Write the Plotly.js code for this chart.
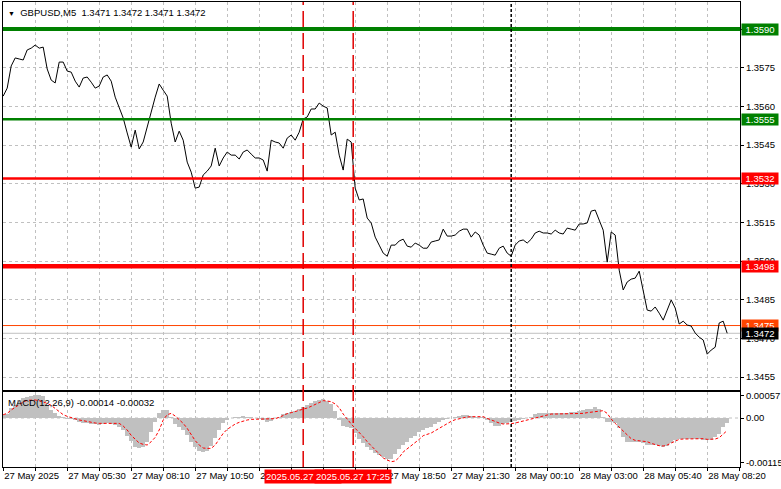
<!DOCTYPE html>
<html>
<head>
<meta charset="utf-8">
<script src="https://cdn.plot.ly/plotly-3.0.1.min.js"></script>
<style>html,body{margin:0;padding:0;background:#fff;}#chart{width:781px;height:489px;}</style>
</head>
<body>
<div id="chart"></div>
<script>
// ---- data (GBPUSD M5, sampled every 10 minutes from 27 May 2025 02:50) ----
const startTime = '2025-05-27 02:50';
const stepMinutes = 10;

const closes = [
1.35640,1.35671,1.35757,1.35788,1.35784,1.35780,1.35819,1.35826,1.35838,1.35826,
1.35830,1.35745,1.35702,1.35691,1.35772,1.35772,1.35737,1.35733,1.35698,1.35675,
1.35710,1.35714,1.35694,1.35671,1.35679,1.35714,1.35722,1.35698,1.35636,1.35597,
1.35555,1.35497,1.35442,1.35508,1.35435,1.35462,1.35516,1.35578,1.35636,1.35687,
1.35663,1.35640,1.35535,1.35462,1.35504,1.35469,1.35384,1.35345,1.35283,1.35287,
1.35334,1.35349,1.35369,1.35438,1.35369,1.35400,1.35423,1.35411,1.35411,1.35396,
1.35423,1.35431,1.35415,1.35400,1.35400,1.35392,1.35349,1.35469,1.35462,1.35458,
1.35438,1.35477,1.35489,1.35469,1.35500,1.35551,1.35559,1.35590,1.35590,1.35613,
1.35601,1.35594,1.35489,1.35500,1.35411,1.35353,1.35473,1.35462,1.35283,1.35237,
1.35241,1.35167,1.35148,1.35093,1.35062,1.35031,1.35019,1.35062,1.35062,1.35078,
1.35085,1.35058,1.35054,1.35070,1.35062,1.35050,1.35050,1.35074,1.35078,1.35082,
1.35124,1.35097,1.35097,1.35101,1.35116,1.35124,1.35124,1.35093,1.35113,1.35101,
1.35062,1.35031,1.35027,1.35023,1.35050,1.35058,1.35031,1.35019,1.35062,1.35078,
1.35082,1.35070,1.35085,1.35109,1.35116,1.35109,1.35109,1.35105,1.35120,1.35109,
1.35105,1.35128,1.35124,1.35120,1.35144,1.35144,1.35148,1.35194,1.35198,1.35155,
1.35120,1.34996,1.35113,1.35101,1.34965,1.34888,1.34919,1.34930,1.34934,1.34961,
1.34892,1.34810,1.34806,1.34822,1.34798,1.34771,1.34810,1.34849,1.34818,1.34756,
1.34767,1.34752,1.34748,1.34721,1.34705,1.34694,1.34639,1.34655,1.34666,1.34760,
1.34767,1.34720
];

const macdMain = [
0.000077,0.000102,0.000247,0.000333,0.000461,0.000503,0.000546,0.000563,0.000589,0.000589,
0.000572,0.000333,0.000205,0.000119,0.000051,0.000017,-0.000017,-0.000034,-0.000051,-0.000094,
-0.000119,-0.000137,-0.000154,-0.000162,-0.000171,-0.000154,-0.000137,-0.000154,-0.000179,-0.000222,
-0.000307,-0.000461,-0.000589,-0.000734,-0.000777,-0.000734,-0.000606,-0.00035,-0.000094,0.000137,
0.000205,0.000205,0.000034,-0.000154,-0.000222,-0.000307,-0.000435,-0.000606,-0.000734,-0.000836,
-0.000862,-0.000836,-0.000717,-0.000521,-0.000307,-0.000119,-0.000051,-0.000009,0.000034,0.000034,
0.000051,0.000034,0.000017,-0.000009,-0.000034,-0.000051,-0.000094,-0.000068,-0.000009,0.000034,
0.000094,0.000119,0.000162,0.000188,0.000222,0.00029,0.000333,0.000393,0.000427,0.000461,
0.000478,0.000444,0.000358,0.000188,-0.000051,-0.000205,-0.000222,-0.000265,-0.000393,-0.000546,
-0.000649,-0.000734,-0.000819,-0.000887,-0.000947,-0.001007,-0.00105,-0.001058,-0.000922,-0.000802,
-0.0007,-0.000606,-0.000503,-0.000461,-0.000367,-0.000307,-0.000265,-0.000222,-0.000154,-0.000102,
-0.00006,-0.000026,0.000009,0.000026,0.000051,0.000068,0.000068,0.000051,0.000034,0.000034,
0.000017,-0.000051,-0.000137,-0.000205,-0.000205,-0.000162,-0.000137,-0.000111,-0.000077,-0.000051,
-0.000017,0.000009,0.000034,0.000094,0.000119,0.000137,0.000137,0.000137,0.000137,0.000128,
0.000137,0.000137,0.000145,0.000154,0.000179,0.000205,0.000222,0.000239,0.000273,0.000222,
0.000017,-0.000094,-0.000111,-0.000137,-0.000265,-0.000495,-0.000606,-0.000614,-0.000614,-0.000614,
-0.000631,-0.000691,-0.0007,-0.0007,-0.000717,-0.000734,-0.000717,-0.000631,-0.000563,-0.000538,
-0.000529,-0.000529,-0.000529,-0.000546,-0.000546,-0.000563,-0.000572,-0.000563,-0.000495,-0.00041,
-0.000239,-0.00014
];

const macdSignal = [
0.000085,0.000119,0.000205,0.000273,0.000358,0.00041,0.000452,0.000461,0.000461,0.000444,
0.000418,0.000375,0.000324,0.000239,0.000162,0.000085,0.000043,0.000009,-0.000026,-0.000051,
-0.000068,-0.000094,-0.000111,-0.000128,-0.000137,-0.000137,-0.000137,-0.000128,-0.000119,-0.000137,
-0.000205,-0.000307,-0.000444,-0.000546,-0.00064,-0.000674,-0.000691,-0.000606,-0.000495,-0.000307,
-0.000051,0.000085,0.000119,0.000051,-0.000034,-0.000137,-0.000265,-0.000435,-0.00058,-0.000691,
-0.000768,-0.000777,-0.000777,-0.000691,-0.000546,-0.000393,-0.00029,-0.000222,-0.000154,-0.000111,
-0.000077,-0.000051,-0.000034,-0.000034,-0.000034,-0.000034,-0.000034,-0.000034,-0.000017,0.000017,
0.000068,0.000111,0.000137,0.000162,0.000188,0.000222,0.000256,0.000299,0.00035,0.000401,
0.000444,0.000435,0.000418,0.000358,0.000265,0.000102,-0.000034,-0.000154,-0.000265,-0.000367,
-0.000478,-0.000606,-0.000708,-0.000819,-0.000922,-0.001024,-0.001075,-0.001118,-0.001101,-0.001007,
-0.00087,-0.000794,-0.000717,-0.000631,-0.000546,-0.000452,-0.000418,-0.000384,-0.000324,-0.000265,
-0.000205,-0.000137,-0.000085,-0.000043,-0.000017,0.000009,0.000026,0.000034,0.000034,0.000034,
0.000034,-0.000009,-0.000051,-0.000094,-0.000128,-0.000154,-0.000154,-0.000145,-0.000128,-0.000102,
-0.000068,-0.000051,-0.000026,0,0.000034,0.000068,0.000094,0.000102,0.000102,0.000102,
0.000102,0.000102,0.000102,0.000102,0.000111,0.000119,0.000137,0.000154,0.000171,0.000188,
0.000188,0.000119,-0.000026,-0.000137,-0.000239,-0.00035,-0.000435,-0.000529,-0.000572,-0.00058,
-0.000589,-0.000606,-0.000649,-0.000683,-0.000708,-0.000717,-0.000691,-0.00064,-0.000589,-0.000546,
-0.000538,-0.000538,-0.000538,-0.000529,-0.000521,-0.000529,-0.000546,-0.000546,-0.000538,-0.000503,
-0.000418,-0.00032
];

const tickLabels = ['27 May 2025','','27 May 05:30','','27 May 08:10','','27 May 10:50','',
  '27 May 13:30','','27 May 16:10','','27 May 18:50','','27 May 21:30','',
  '28 May 00:10','','28 May 03:00','','28 May 05:40','','28 May 08:20',''];
const tickStepMinutes = 80;

const levelPrices = [1.3590, 1.3555, 1.3532, 1.3498];
const levelLabels = ['1.3590', '1.3555', '1.3532', '1.3498'];
const markerPrice = 1.3475, bidPrice = 1.3472;
const sessionLines = ['2025-05-27 15:20', '2025-05-27 17:25'];
const sessionLabels = ['2025.05.27 15:20', '2025.05.27 17:25'];
const daySeparator = '2025-05-28 00:00';
const titleText = 'GBPUSD,M5  1.3471 1.3472 1.3471 1.3472';
const macdText = 'MACD(12,26,9) -0.00014 -0.00032';

// ---- helpers ----
function parseT(s){ const [d,t]=s.split(' '); const [Y,M,D]=d.split('-').map(Number); const [h,m]=t.split(':').map(Number); return Date.UTC(Y,M-1,D,h,m); }
function fmt(ms){ return new Date(ms).toISOString().slice(0,19).replace('T',' '); }
const t0 = parseT(startTime);
const times = closes.map((_, i) => fmt(t0 + i*stepMinutes*60000));
const tickVals = tickLabels.map((_, n) => fmt(t0 + n*tickStepMinutes*60000));

// ---- styles ----
const FONT = 'Liberation Sans, Arial, sans-serif';
const GRID = '#c0c0c0';
const levelStyle = [
  {color:'#008000', width:4, bg:'#008000'},
  {color:'#008000', width:2.5, bg:'#008000'},
  {color:'#ff0000', width:2.5, bg:'#ff0000'},
  {color:'#ff0000', width:4.5, bg:'#ff0000'}
];

const traces = [
  {x: times, y: closes, type:'scatter', mode:'lines', line:{color:'#000', width:1}, xaxis:'x', yaxis:'y', hoverinfo:'skip'},
  {x: times, y: macdMain, type:'bar', marker:{color:'#c0c0c0', line:{width:0}}, width: stepMinutes*60000, xaxis:'x2', yaxis:'y2', hoverinfo:'skip'},
  {x: times, y: macdSignal, type:'scatter', mode:'lines', line:{color:'#ff0000', width:1, dash:'3px,2px'}, xaxis:'x2', yaxis:'y2', hoverinfo:'skip'}
];

const shapes = [];
levelPrices.forEach((p, i) => shapes.push({type:'line', xref:'paper', x0:0, x1:1, yref:'y', y0:p, y1:p, layer:'above', line:{color:levelStyle[i].color, width:levelStyle[i].width}}));
shapes.push({type:'line', xref:'paper', x0:0, x1:1, yref:'y', y0:markerPrice, y1:markerPrice, layer:'between', line:{color:'#ff4500', width:1}});
shapes.push({type:'line', xref:'paper', x0:0, x1:1, yref:'y', y0:bidPrice, y1:bidPrice, layer:'between', line:{color:'#c0c0c0', width:1}});
shapes.push({type:'line', xref:'paper', x0:0, x1:1, yref:'y2', y0:0, y1:0, layer:'below', line:{color:GRID, width:1, dash:'3px,3px'}});
sessionLines.forEach(s => shapes.push({type:'line', xref:'x', x0:s, x1:s, yref:'paper', y0:0, y1:1, layer:'above', line:{color:'#e00000', width:1.5, dash:'16px,6px'}}));
shapes.push({type:'line', xref:'x', x0:daySeparator, x1:daySeparator, yref:'paper', y0:0, y1:1, layer:'above', line:{color:'#000', width:1.5, dash:'3px,2px'}});

const annotations = [];
function priceTag(p, text, bg, fg){
  annotations.push({xref:'paper', x:1, xanchor:'left', xshift:1, yref:'y', y:p, yanchor:'middle', text:text, showarrow:false,
    bgcolor:bg, font:{family:FONT, size:9.5, color:fg}, borderpad:0, width:36, height:11, align:'center'});
}
levelPrices.forEach((p, i) => priceTag(p, levelLabels[i], levelStyle[i].bg, '#ffffff'));
priceTag(markerPrice, markerPrice.toFixed(4), '#ff4500', '#ffffff');
priceTag(bidPrice, bidPrice.toFixed(4), '#000000', '#ffffff');
annotations.push({xref:'paper', x:0, xanchor:'left', xshift:3, yref:'paper', y:1, yanchor:'top', yshift:-3,
  text:'<span style="font-size:7px">▼</span>  ' + titleText, showarrow:false, font:{family:FONT, size:9.5, color:'#000'}});
annotations.push({xref:'paper', x:0, xanchor:'left', xshift:3, yref:'paper', y:0.1613, yanchor:'top', yshift:-3,
  text:macdText, showarrow:false, font:{family:FONT, size:9.5, color:'#000'}});
sessionLines.forEach((s, i) => annotations.push({xref:'x2', x:s, xanchor:'center', yref:'paper', y:0, yanchor:'top', yshift:-2,
  text:sessionLabels[i], showarrow:false, bgcolor:'#ff0000', borderpad:1, font:{family:FONT, size:9.5, color:'#fff'}}));

const axisCommon = {showline:true, linecolor:'#000', linewidth:1, mirror:true, zeroline:false, fixedrange:true};

const layout = {
  width:781, height:489,
  margin:{l:3, r:41, t:2, b:22, pad:0},
  paper_bgcolor:'#fff', plot_bgcolor:'#fff',
  showlegend:false, bargap:0,
  font:{family:FONT, size:9.5, color:'#000'},
  xaxis: Object.assign({}, axisCommon, {
    type:'date', anchor:'y', matches:'x2', range:['2025-05-27 02:49:30','2025-05-28 09:32:00'],
    tickmode:'array', tickvals:tickVals, ticktext:tickLabels.map(()=>''), showticklabels:false, ticks:'',
    showgrid:true, gridcolor:GRID, griddash:'3px,3px', gridwidth:1
  }),
  xaxis2: Object.assign({}, axisCommon, {
    type:'date', anchor:'y2', range:['2025-05-27 02:49:30','2025-05-28 09:32:00'],
    tickmode:'array', tickvals:tickVals, ticktext:tickLabels, ticks:'outside', ticklen:3, tickcolor:'#000',
    tickangle:0, ticklabelposition:'outside right', tickfont:{family:FONT, size:9.5, color:'#000'},
    showgrid:true, gridcolor:GRID, griddash:'3px,3px', gridwidth:1
  }),
  yaxis: Object.assign({}, axisCommon, {
    domain:[0.1656, 1], anchor:'x', side:'right', range:[1.345, 1.36005],
    tickmode:'linear', tick0:1.3455, dtick:0.0015, tickformat:'.4f',
    ticks:'outside', ticklen:3, tickcolor:'#000', tickfont:{family:FONT, size:9.5, color:'#000'},
    showgrid:true, gridcolor:GRID, griddash:'3px,3px', gridwidth:1
  }),
  yaxis2: Object.assign({}, axisCommon, {
    domain:[0, 0.1613], anchor:'x2', side:'right', range:[-0.001254, 0.000666],
    tickmode:'array', tickvals:[0.00057, 0, -0.00115], ticktext:['0.00057','0.00','-0.00115'],
    ticks:'outside', ticklen:3, tickcolor:'#000', tickfont:{family:FONT, size:9.5, color:'#000'},
    showgrid:false
  }),
  shapes: shapes,
  annotations: annotations
};

Plotly.newPlot('chart', traces, layout, {staticPlot:true, displayModeBar:false});
</script>
</body>
</html>
